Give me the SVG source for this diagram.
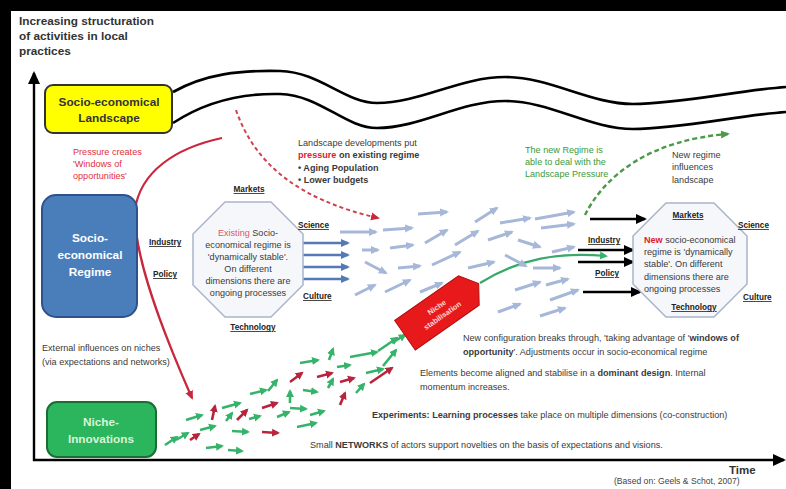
<svg xmlns="http://www.w3.org/2000/svg" width="786" height="489" viewBox="0 0 786 489">
<style>
text{font-family:"Liberation Sans",Arial,sans-serif;}
.sm{font-size:9.1px;fill:#3a3a3a}
.b{font-weight:bold}
.lbl{font-size:8.2px;font-weight:bold;fill:#222;text-decoration:underline}
.ttl{font-size:11.8px;font-weight:bold;fill:#333}
.lb{stroke:#a6b7d8;stroke-width:3;fill:none;marker-end:url(#mlb)}
.db{stroke:#5479b4;stroke-width:2.4;fill:none;marker-end:url(#mdb)}
.bk{stroke:#000;stroke-width:2.4;fill:none;marker-end:url(#mbk)}
.ng{stroke:#35b36a;stroke-width:2.6;fill:none;marker-end:url(#mng)}
.nr{stroke:#b8243c;stroke-width:2.6;fill:none;marker-end:url(#mnr)}
.wave{stroke:#000;stroke-width:2.6;fill:none}
.oct{fill:#f6f7fb;stroke:#a9b5c9;stroke-width:1.5}
.bx{font-size:11.8px;font-weight:bold;text-anchor:middle}
</style>
<defs>
<marker id="mlb" markerUnits="userSpaceOnUse" markerWidth="10" markerHeight="10" refX="7" refY="5" orient="auto"><path d="M0,1 L9,5 L0,9 z" fill="#a6b7d8"/></marker>
<marker id="mdb" markerUnits="userSpaceOnUse" markerWidth="10" markerHeight="10" refX="7" refY="5" orient="auto"><path d="M0,1 L9,5 L0,9 z" fill="#5479b4"/></marker>
<marker id="mbk" markerUnits="userSpaceOnUse" markerWidth="12" markerHeight="12" refX="9" refY="6" orient="auto"><path d="M0,1 L11,6 L0,11 z" fill="#000"/></marker>
<marker id="mng" markerUnits="userSpaceOnUse" markerWidth="9" markerHeight="9" refX="6" refY="4.5" orient="auto"><path d="M0,0.5 L8,4.5 L0,8.5 z" fill="#35b36a"/></marker>
<marker id="mnr" markerUnits="userSpaceOnUse" markerWidth="9" markerHeight="9" refX="6" refY="4.5" orient="auto"><path d="M0,0.5 L8,4.5 L0,8.5 z" fill="#b8243c"/></marker>
<marker id="mrd" markerUnits="userSpaceOnUse" markerWidth="10" markerHeight="10" refX="7" refY="5" orient="auto"><path d="M0,1 L9,5 L0,9 z" fill="#c8283c"/></marker>
<marker id="mgd" markerUnits="userSpaceOnUse" markerWidth="10" markerHeight="10" refX="7" refY="5" orient="auto"><path d="M0,1 L9,5 L0,9 z" fill="#4a9a4a"/></marker>
<marker id="max" markerUnits="userSpaceOnUse" markerWidth="14" markerHeight="14" refX="11" refY="7" orient="auto"><path d="M0,1 L13,7 L0,13 z" fill="#000"/></marker>
</defs>
<rect x="0" y="0" width="786" height="489" fill="#fff"/>
<rect x="0" y="0" width="786" height="11" fill="#000"/>
<rect x="0" y="0" width="11" height="489" fill="#000"/>

<g id="title">
<text class="ttl" x="19" y="25">Increasing structuration</text>
<text class="ttl" x="19" y="40">of activities in local</text>
<text class="ttl" x="19" y="55">practices</text>
</g>

<g id="axes">
<line x1="34" y1="461" x2="34" y2="73" stroke="#000" stroke-width="2.4" marker-end="url(#max)"/>
<line x1="33" y1="460" x2="784" y2="460" stroke="#000" stroke-width="2.6" marker-end="url(#max)"/>
<text x="729" y="474" font-size="11.5" font-weight="bold" fill="#333">Time</text>
<text x="614" y="484" font-size="8.6" fill="#444">(Based on: Geels &amp; Schot, 2007)</text>
</g>

<g id="connectors">
<path class="wave" d="M173,92 C205,74 240,70 280,71 C320,72 345,103 377,103 C420,103 460,77 505,77 C550,77 590,104 633,104 C680,104 740,90 786,87"/>
<path class="wave" d="M173,123 C205,102 240,93 280,94 C320,95 345,128 377,128 C420,128 460,101 505,101 C550,101 590,129 633,129 C680,129 740,115 786,112"/>
<path d="M222,138 C175,148 140,172 135,210 C133,255 162,330 192,398" stroke="#c8283c" stroke-width="2.2" fill="none" marker-end="url(#mrd)"/>
<path d="M236,110 C255,165 300,200 378,218" stroke="#d04050" stroke-width="2" stroke-dasharray="4,3" fill="none" marker-end="url(#mrd)"/>
<path d="M585,215 C605,175 650,140 728,134" stroke="#4a9a4a" stroke-width="2.4" stroke-dasharray="5,3" fill="none" marker-end="url(#mgd)"/>
<path d="M480,283 C520,258 560,252 606,256" stroke="#3aa86a" stroke-width="2.2" fill="none" marker-end="url(#mng)"/>
<line class="db" x1="303" y1="243" x2="348" y2="243"/>
<line class="db" x1="303" y1="255" x2="348" y2="255"/>
<line class="db" x1="303" y1="267" x2="348" y2="267"/>
<line class="db" x1="303" y1="279" x2="348" y2="279"/>
<line class="lb" x1="340" y1="232" x2="376" y2="232"/>
<line class="lb" x1="383" y1="230" x2="412" y2="228"/>
<line class="lb" x1="418" y1="214" x2="447" y2="212"/>
<line class="lb" x1="425" y1="243" x2="447" y2="230"/>
<line class="lb" x1="455" y1="245" x2="478" y2="231"/>
<line class="lb" x1="475" y1="222" x2="497" y2="208"/>
<line class="lb" x1="500" y1="223" x2="530" y2="218"/>
<line class="lb" x1="535" y1="219" x2="574" y2="212"/>
<line class="lb" x1="541" y1="228" x2="574" y2="224"/>
<line class="lb" x1="362" y1="250" x2="378" y2="250"/>
<line class="lb" x1="390" y1="248" x2="413" y2="245"/>
<line class="lb" x1="488" y1="240" x2="512" y2="232"/>
<line class="lb" x1="518" y1="240" x2="540" y2="247"/>
<line class="lb" x1="365" y1="262" x2="386" y2="273"/>
<line class="lb" x1="398" y1="268" x2="420" y2="266"/>
<line class="lb" x1="432" y1="265" x2="460" y2="252"/>
<line class="lb" x1="468" y1="268" x2="494" y2="262"/>
<line class="lb" x1="505" y1="255" x2="526" y2="266"/>
<line class="lb" x1="533" y1="268" x2="560" y2="268"/>
<line class="lb" x1="552" y1="252" x2="574" y2="247"/>
<line class="lb" x1="355" y1="295" x2="375" y2="285"/>
<line class="lb" x1="385" y1="292" x2="410" y2="280"/>
<line class="lb" x1="420" y1="292" x2="442" y2="283"/>
<line class="lb" x1="515" y1="290" x2="540" y2="282"/>
<line class="lb" x1="546" y1="285" x2="568" y2="279"/>
<line class="lb" x1="550" y1="300" x2="578" y2="290"/>
<line class="lb" x1="498" y1="312" x2="520" y2="304"/>
<line class="lb" x1="540" y1="316" x2="565" y2="308"/>
<line class="bk" x1="590" y1="219" x2="645" y2="219"/>
<line class="bk" x1="578" y1="250" x2="633" y2="250"/>
<line class="bk" x1="578" y1="262" x2="633" y2="262"/>
<line class="bk" x1="583" y1="292" x2="640" y2="292"/>
<line class="ng" x1="165" y1="445" x2="177" y2="437"/>
<line class="ng" x1="176" y1="440" x2="188" y2="433"/>
<line class="ng" x1="186" y1="420" x2="202" y2="415"/>
<line class="ng" x1="200" y1="430" x2="215" y2="426"/>
<line class="ng" x1="206" y1="448" x2="222" y2="446"/>
<line class="ng" x1="222" y1="408" x2="240" y2="403"/>
<line class="ng" x1="226" y1="421" x2="232" y2="413"/>
<line class="ng" x1="232" y1="431" x2="248" y2="432"/>
<line class="ng" x1="228" y1="450" x2="242" y2="451"/>
<line class="ng" x1="249" y1="419" x2="260" y2="416"/>
<line class="ng" x1="250" y1="394" x2="266" y2="390"/>
<line class="ng" x1="268" y1="391" x2="277" y2="380"/>
<line class="ng" x1="290" y1="403" x2="290" y2="391"/>
<line class="ng" x1="277" y1="417" x2="289" y2="412"/>
<line class="ng" x1="290" y1="408" x2="306" y2="409"/>
<line class="ng" x1="297" y1="427" x2="316" y2="423"/>
<line class="ng" x1="303" y1="390" x2="317" y2="392"/>
<line class="ng" x1="310" y1="415" x2="324" y2="411"/>
<line class="ng" x1="300" y1="363" x2="318" y2="360"/>
<line class="ng" x1="329" y1="360" x2="333" y2="349"/>
<line class="ng" x1="328" y1="388" x2="333" y2="379"/>
<line class="ng" x1="337" y1="367" x2="350" y2="365"/>
<line class="ng" x1="350" y1="357" x2="377" y2="352"/>
<line class="ng" x1="356" y1="393" x2="364" y2="384"/>
<line class="ng" x1="366" y1="373" x2="383" y2="369"/>
<line class="ng" x1="378" y1="351" x2="397" y2="338"/>
<line class="ng" x1="383" y1="366" x2="396" y2="350"/>
<line class="ng" x1="392" y1="343" x2="405" y2="335"/>
<line class="nr" x1="190" y1="440" x2="199" y2="434"/>
<line class="nr" x1="212" y1="420" x2="215" y2="406"/>
<line class="nr" x1="237" y1="420" x2="247" y2="410"/>
<line class="nr" x1="262" y1="432" x2="278" y2="433"/>
<line class="nr" x1="262" y1="408" x2="277" y2="403"/>
<line class="nr" x1="290" y1="382" x2="302" y2="373"/>
<line class="nr" x1="317" y1="377" x2="332" y2="373"/>
<line class="nr" x1="340" y1="405" x2="345" y2="393"/>
<line class="nr" x1="340" y1="382" x2="354" y2="378"/>
<line class="nr" x1="370" y1="383" x2="392" y2="368"/>
</g>

<g id="landscape">
<rect x="45" y="85" width="127" height="48" rx="8" fill="#ffff00" stroke="#333" stroke-width="2"/>
<text class="bx" x="109" y="106" fill="#333">Socio-economical</text>
<text class="bx" x="109" y="122" fill="#333">Landscape</text>
</g>

<g id="pressure-note">
<text class="sm" x="73" y="155" style="fill:#e03040">Pressure creates</text>
<text class="sm" x="73" y="167" style="fill:#e03040">'Windows of</text>
<text class="sm" x="73" y="179" style="fill:#e03040">opportunities'</text>
</g>

<g id="landscape-note">
<text class="sm" x="298" y="146">Landscape developments put</text>
<text class="sm" x="298" y="158"><tspan class="b" style="fill:#e0202a">pressure</tspan><tspan class="b"> on existing regime</tspan></text>
<text class="sm b" x="298" y="171">• Aging Population</text>
<text class="sm b" x="298" y="183">• Lower budgets</text>
</g>

<g id="green-note">
<text class="sm" x="525" y="153" style="fill:#3a9a3a">The new Regime is</text>
<text class="sm" x="525" y="165" style="fill:#3a9a3a">able to deal with the</text>
<text class="sm" x="525" y="177" style="fill:#3a9a3a">Landscape Pressure</text>
</g>

<g id="influence-note">
<text class="sm" x="672" y="158">New regime</text>
<text class="sm" x="672" y="170">influences</text>
<text class="sm" x="672" y="183">landscape</text>
</g>

<g id="regime">
<rect x="42" y="195" width="95" height="122" rx="14" fill="#4a7ebb" stroke="#2f528f" stroke-width="2"/>
<text class="bx" x="90" y="242" fill="#fff">Socio-</text>
<text class="bx" x="90" y="259" fill="#fff">economical</text>
<text class="bx" x="90" y="276" fill="#fff">Regime</text>
</g>

<g id="existing-regime">
<polygon class="oct" points="225,202 271,202 303,234 303,285 271,317 225,317 193,285 193,234"/>
<text class="sm" x="248" y="236" text-anchor="middle"><tspan style="fill:#e05565">Existing</tspan> Socio-</text>
<text class="sm" x="248" y="248" text-anchor="middle">economical regime is</text>
<text class="sm" x="248" y="260" text-anchor="middle">'dynamically stable'.</text>
<text class="sm" x="248" y="272" text-anchor="middle">On different</text>
<text class="sm" x="248" y="284" text-anchor="middle">dimensions there are</text>
<text class="sm" x="248" y="296" text-anchor="middle">ongoing processes</text>
<text class="lbl" x="249" y="192" text-anchor="middle">Markets</text>
<text class="lbl" x="298" y="228">Science</text>
<text class="lbl" x="303" y="299">Culture</text>
<text class="lbl" x="253" y="330" text-anchor="middle">Technology</text>
<text class="lbl" x="149" y="245">Industry</text>
<text class="lbl" x="153" y="277">Policy</text>
</g>

<g id="new-regime">
<polygon class="oct" points="666,203 714,203 747,236 747,284 714,317 666,317 633,284 633,236"/>
<text class="lbl" x="688" y="218" text-anchor="middle">Markets</text>
<text class="lbl" x="738" y="228">Science</text>
<text class="lbl" x="588" y="243">Industry</text>
<text class="lbl" x="595" y="276">Policy</text>
<text class="lbl" x="743" y="300">Culture</text>
<text class="lbl" x="694" y="310" text-anchor="middle">Technology</text>
<text class="sm" x="644" y="243"><tspan class="b" style="fill:#e0202a">New</tspan> socio-economical</text>
<text class="sm" x="644" y="255">regime is 'dynamically</text>
<text class="sm" x="644" y="267">stable'. On different</text>
<text class="sm" x="644" y="280">dimensions there are</text>
<text class="sm" x="644" y="292">ongoing processes</text>
</g>

<g id="niche-tag" transform="translate(441,310) rotate(-35)">
<polygon points="-44,-18 34,-18 46,0 34,18 -44,18" fill="#e8191b" stroke="#b01010" stroke-width="1"/>
<text x="-2" y="-2" font-size="7.5" font-weight="bold" fill="#ffd6d6" text-anchor="middle">Niche</text>
<text x="-2" y="8" font-size="7.5" font-weight="bold" fill="#ffd6d6" text-anchor="middle">stabilisation</text>
</g>

<g id="niche">
<rect x="47" y="402" width="109" height="55" rx="10" fill="#2bb55c" stroke="#1a6e33" stroke-width="2"/>
<text class="bx" x="101" y="426" fill="#d8f5d8">Niche-</text>
<text class="bx" x="101" y="443" fill="#d8f5d8">Innovations</text>
</g>

<g id="notes">
<text class="sm" x="42" y="351">External influences on niches</text>
<text class="sm" x="42" y="365">(via expectations and networks)</text>
<text class="sm" x="463" y="341">New configuration breaks through, 'taking advantage of '<tspan class="b">windows of</tspan></text>
<text class="sm" x="463" y="355"><tspan class="b">opportunity</tspan>'.  Adjustments occur in socio-economical regime</text>
<text class="sm" x="420" y="376">Elements become aligned and stabilise in a <tspan class="b">dominant design</tspan>. Internal</text>
<text class="sm" x="420" y="390">momentum increases.</text>
<text class="sm" x="372" y="418"><tspan class="b">Experiments: Learning processes</tspan> take place on multiple dimensions (co-construction)</text>
<text class="sm" x="310" y="448">Small <tspan class="b">NETWORKS</tspan> of actors support novelties on the basis of expectations and visions.</text>
</g>
</svg>
